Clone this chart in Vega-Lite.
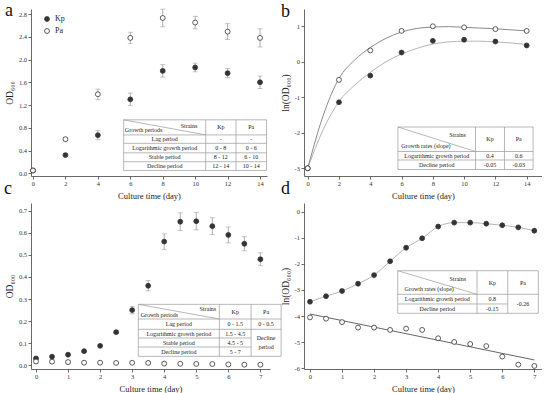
{
  "$schema": "https://vega.github.io/schema/vega-lite/v6.json",
  "background": "white",
  "padding": {"left": 4, "top": 1, "right": 0, "bottom": 0},
  "columns": 2,
  "spacing": {"row": 27, "column": 34},
  "bounds": "flush",
  "resolve": {"scale": {"fill": "independent", "color": "independent"}, "legend": {"fill": "independent", "color": "independent"}},
  "datasets": {
    "growthA": [
      {"day": 0, "val": 0.05, "sd": 0.005, "strain": "Kp"},
      {"day": 2, "val": 0.32, "sd": 0.02, "strain": "Kp"},
      {"day": 4, "val": 0.67, "sd": 0.08, "strain": "Kp"},
      {"day": 6, "val": 1.30, "sd": 0.11, "strain": "Kp"},
      {"day": 8, "val": 1.80, "sd": 0.11, "strain": "Kp"},
      {"day": 10, "val": 1.86, "sd": 0.076, "strain": "Kp"},
      {"day": 12, "val": 1.76, "sd": 0.08, "strain": "Kp"},
      {"day": 14, "val": 1.60, "sd": 0.11, "strain": "Kp"},
      {"day": 0, "val": 0.05, "sd": 0.005, "strain": "Pa"},
      {"day": 2, "val": 0.60, "sd": 0.03, "strain": "Pa"},
      {"day": 4, "val": 1.39, "sd": 0.09, "strain": "Pa"},
      {"day": 6, "val": 2.38, "sd": 0.10, "strain": "Pa"},
      {"day": 8, "val": 2.73, "sd": 0.155, "strain": "Pa"},
      {"day": 10, "val": 2.65, "sd": 0.11, "strain": "Pa"},
      {"day": 12, "val": 2.49, "sd": 0.14, "strain": "Pa"},
      {"day": 14, "val": 2.38, "sd": 0.16, "strain": "Pa"}
    ],
    "growthB": [
      {"day": 0, "val": -3.0, "strain": "Kp"},
      {"day": 2, "val": -1.14, "strain": "Kp"},
      {"day": 4, "val": -0.39, "strain": "Kp"},
      {"day": 6, "val": 0.26, "strain": "Kp"},
      {"day": 8, "val": 0.59, "strain": "Kp"},
      {"day": 10, "val": 0.62, "strain": "Kp"},
      {"day": 12, "val": 0.57, "strain": "Kp"},
      {"day": 14, "val": 0.46, "strain": "Kp"},
      {"day": 0, "val": -3.0, "strain": "Pa"},
      {"day": 2, "val": -0.51, "strain": "Pa"},
      {"day": 4, "val": 0.32, "strain": "Pa"},
      {"day": 6, "val": 0.87, "strain": "Pa"},
      {"day": 8, "val": 1.0, "strain": "Pa"},
      {"day": 10, "val": 0.97, "strain": "Pa"},
      {"day": 12, "val": 0.92, "strain": "Pa"},
      {"day": 14, "val": 0.87, "strain": "Pa"}
    ],
    "curveB": [
      {"day": 0, "val": -3.0, "strain": "Kp"},
      {"day": 1, "val": -1.9, "strain": "Kp"},
      {"day": 2, "val": -1.12, "strain": "Kp"},
      {"day": 3, "val": -0.66, "strain": "Kp"},
      {"day": 4, "val": -0.3, "strain": "Kp"},
      {"day": 5, "val": 0.0, "strain": "Kp"},
      {"day": 6, "val": 0.22, "strain": "Kp"},
      {"day": 7, "val": 0.38, "strain": "Kp"},
      {"day": 8, "val": 0.5, "strain": "Kp"},
      {"day": 9, "val": 0.56, "strain": "Kp"},
      {"day": 10, "val": 0.58, "strain": "Kp"},
      {"day": 11, "val": 0.58, "strain": "Kp"},
      {"day": 12, "val": 0.56, "strain": "Kp"},
      {"day": 13, "val": 0.53, "strain": "Kp"},
      {"day": 14, "val": 0.49, "strain": "Kp"},
      {"day": 0, "val": -3.0, "strain": "Pa"},
      {"day": 1, "val": -1.5, "strain": "Pa"},
      {"day": 2, "val": -0.47, "strain": "Pa"},
      {"day": 3, "val": 0.05, "strain": "Pa"},
      {"day": 4, "val": 0.4, "strain": "Pa"},
      {"day": 5, "val": 0.66, "strain": "Pa"},
      {"day": 6, "val": 0.84, "strain": "Pa"},
      {"day": 7, "val": 0.94, "strain": "Pa"},
      {"day": 8, "val": 0.98, "strain": "Pa"},
      {"day": 9, "val": 0.99, "strain": "Pa"},
      {"day": 10, "val": 0.97, "strain": "Pa"},
      {"day": 11, "val": 0.95, "strain": "Pa"},
      {"day": 12, "val": 0.93, "strain": "Pa"},
      {"day": 13, "val": 0.9, "strain": "Pa"},
      {"day": 14, "val": 0.87, "strain": "Pa"}
    ],
    "growthC": [
      {"day": 0, "val": 0.031, "sd": 0.004, "strain": "Kp"},
      {"day": 0.5, "val": 0.039, "sd": 0.004, "strain": "Kp"},
      {"day": 1, "val": 0.048, "sd": 0.004, "strain": "Kp"},
      {"day": 1.5, "val": 0.064, "sd": 0.004, "strain": "Kp"},
      {"day": 2, "val": 0.088, "sd": 0.004, "strain": "Kp"},
      {"day": 2.5, "val": 0.15, "sd": 0.006, "strain": "Kp"},
      {"day": 3, "val": 0.25, "sd": 0.017, "strain": "Kp"},
      {"day": 3.5, "val": 0.36, "sd": 0.023, "strain": "Kp"},
      {"day": 4, "val": 0.56, "sd": 0.035, "strain": "Kp"},
      {"day": 4.5, "val": 0.65, "sd": 0.04, "strain": "Kp"},
      {"day": 5, "val": 0.652, "sd": 0.039, "strain": "Kp"},
      {"day": 5.5, "val": 0.63, "sd": 0.038, "strain": "Kp"},
      {"day": 6, "val": 0.59, "sd": 0.036, "strain": "Kp"},
      {"day": 6.5, "val": 0.55, "sd": 0.032, "strain": "Kp"},
      {"day": 7, "val": 0.48, "sd": 0.029, "strain": "Kp"},
      {"day": 0, "val": 0.0175, "sd": 0.008, "strain": "Pa"},
      {"day": 0.5, "val": 0.0165, "sd": 0.008, "strain": "Pa"},
      {"day": 1, "val": 0.0146, "sd": 0.008, "strain": "Pa"},
      {"day": 1.5, "val": 0.0118, "sd": 0.004, "strain": "Pa"},
      {"day": 2, "val": 0.0118, "sd": 0.004, "strain": "Pa"},
      {"day": 2.5, "val": 0.0108, "sd": 0.004, "strain": "Pa"},
      {"day": 3, "val": 0.0114, "sd": 0.004, "strain": "Pa"},
      {"day": 3.5, "val": 0.0108, "sd": 0.004, "strain": "Pa"},
      {"day": 4, "val": 0.0078, "sd": 0.003, "strain": "Pa"},
      {"day": 4.5, "val": 0.0068, "sd": 0.003, "strain": "Pa"},
      {"day": 5, "val": 0.0063, "sd": 0.003, "strain": "Pa"},
      {"day": 5.5, "val": 0.0058, "sd": 0.003, "strain": "Pa"},
      {"day": 6, "val": 0.0039, "sd": 0.003, "strain": "Pa"},
      {"day": 6.5, "val": 0.0028, "sd": 0.003, "strain": "Pa"},
      {"day": 7, "val": 0.0027, "sd": 0.003, "strain": "Pa"}
    ],
    "growthD": [
      {"day": 0, "val": -3.45, "strain": "Kp"},
      {"day": 0.5, "val": -3.24, "strain": "Kp"},
      {"day": 1, "val": -3.04, "strain": "Kp"},
      {"day": 1.5, "val": -2.76, "strain": "Kp"},
      {"day": 2, "val": -2.43, "strain": "Kp"},
      {"day": 2.5, "val": -1.90, "strain": "Kp"},
      {"day": 3, "val": -1.38, "strain": "Kp"},
      {"day": 3.5, "val": -1.02, "strain": "Kp"},
      {"day": 4, "val": -0.57, "strain": "Kp"},
      {"day": 4.5, "val": -0.42, "strain": "Kp"},
      {"day": 5, "val": -0.42, "strain": "Kp"},
      {"day": 5.5, "val": -0.46, "strain": "Kp"},
      {"day": 6, "val": -0.52, "strain": "Kp"},
      {"day": 6.5, "val": -0.60, "strain": "Kp"},
      {"day": 7, "val": -0.73, "strain": "Kp"},
      {"day": 0, "val": -4.05, "strain": "Pa"},
      {"day": 0.5, "val": -4.10, "strain": "Pa"},
      {"day": 1, "val": -4.23, "strain": "Pa"},
      {"day": 1.5, "val": -4.44, "strain": "Pa"},
      {"day": 2, "val": -4.44, "strain": "Pa"},
      {"day": 2.5, "val": -4.53, "strain": "Pa"},
      {"day": 3, "val": -4.48, "strain": "Pa"},
      {"day": 3.5, "val": -4.53, "strain": "Pa"},
      {"day": 4, "val": -4.85, "strain": "Pa"},
      {"day": 4.5, "val": -4.99, "strain": "Pa"},
      {"day": 5, "val": -5.07, "strain": "Pa"},
      {"day": 5.5, "val": -5.15, "strain": "Pa"},
      {"day": 6, "val": -5.55, "strain": "Pa"},
      {"day": 6.5, "val": -5.86, "strain": "Pa"},
      {"day": 7, "val": -5.91, "strain": "Pa"}
    ],
    "fitD": [
      {"day": 0, "val": -3.92, "strain": "Pa"},
      {"day": 7, "val": -5.68, "strain": "Pa"}
    ],
    "tblA_lines": [
      {"day": 5.59, "val": 0.94, "day2": 14.4, "val2": 0.94},
      {"day": 5.59, "val": 0.675, "day2": 14.4, "val2": 0.675},
      {"day": 5.59, "val": 0.527, "day2": 14.4, "val2": 0.527},
      {"day": 5.59, "val": 0.36, "day2": 14.4, "val2": 0.36},
      {"day": 5.59, "val": 0.204, "day2": 14.4, "val2": 0.204},
      {"day": 5.59, "val": 0.05, "day2": 14.4, "val2": 0.05},
      {"day": 5.59, "val": 0.94, "day2": 5.59, "val2": 0.05},
      {"day": 10.65, "val": 0.94, "day2": 10.65, "val2": 0.05},
      {"day": 12.52, "val": 0.94, "day2": 12.52, "val2": 0.05},
      {"day": 14.4, "val": 0.94, "day2": 14.4, "val2": 0.05},
      {"day": 5.59, "val": 0.94, "day2": 10.65, "val2": 0.675}
    ],
    "tblA_text": [
      {"day": 9.62, "val": 0.837, "label": "Strains"},
      {"day": 6.82, "val": 0.765, "label": "Growth periods"},
      {"day": 11.585, "val": 0.808, "label": "Kp"},
      {"day": 13.46, "val": 0.808, "label": "Pa"},
      {"day": 8.12, "val": 0.601, "label": "Lag period"},
      {"day": 11.585, "val": 0.601, "label": "-"},
      {"day": 13.46, "val": 0.601, "label": "-"},
      {"day": 8.12, "val": 0.4435, "label": "Logarithmic growth period"},
      {"day": 11.585, "val": 0.4435, "label": "0 - 8"},
      {"day": 13.46, "val": 0.4435, "label": "0 - 6"},
      {"day": 8.12, "val": 0.282, "label": "Stable period"},
      {"day": 11.585, "val": 0.282, "label": "8 - 12"},
      {"day": 13.46, "val": 0.282, "label": "6 - 10"},
      {"day": 8.12, "val": 0.127, "label": "Decline period"},
      {"day": 11.585, "val": 0.127, "label": "12 - 14"},
      {"day": 13.46, "val": 0.127, "label": "10 - 14"}
    ],
    "tblB_lines": [
      {"day": 5.77, "val": -1.837, "day2": 14.41, "val2": -1.837},
      {"day": 5.77, "val": -2.527, "day2": 14.41, "val2": -2.527},
      {"day": 5.77, "val": -2.766, "day2": 14.41, "val2": -2.766},
      {"day": 5.77, "val": -3.034, "day2": 14.41, "val2": -3.034},
      {"day": 5.77, "val": -1.837, "day2": 5.77, "val2": -3.034},
      {"day": 10.73, "val": -1.837, "day2": 10.73, "val2": -3.034},
      {"day": 12.58, "val": -1.837, "day2": 12.58, "val2": -3.034},
      {"day": 14.41, "val": -1.837, "day2": 14.41, "val2": -3.034},
      {"day": 5.77, "val": -1.837, "day2": 10.73, "val2": -2.527}
    ],
    "tblB_text": [
      {"day": 9.58, "val": -2.06, "label": "Strains"},
      {"day": 7.56, "val": -2.38, "label": "Growth rates (slope)"},
      {"day": 11.655, "val": -2.18, "label": "Kp"},
      {"day": 13.495, "val": -2.18, "label": "Pa"},
      {"day": 8.25, "val": -2.646, "label": "Logarithmic growth period"},
      {"day": 11.655, "val": -2.646, "label": "0.4"},
      {"day": 13.495, "val": -2.646, "label": "0.6"},
      {"day": 8.25, "val": -2.9, "label": "Decline period"},
      {"day": 11.655, "val": -2.9, "label": "-0.05"},
      {"day": 13.495, "val": -2.9, "label": "-0.03"}
    ],
    "tblC_lines": [
      {"day": 3.193, "val": 0.276, "day2": 7.647, "val2": 0.276},
      {"day": 3.193, "val": 0.2096, "day2": 7.647, "val2": 0.2096},
      {"day": 3.193, "val": 0.163, "day2": 7.647, "val2": 0.163},
      {"day": 3.193, "val": 0.1236, "day2": 6.71, "val2": 0.1236},
      {"day": 3.193, "val": 0.0828, "day2": 6.71, "val2": 0.0828},
      {"day": 3.193, "val": 0.0407, "day2": 7.647, "val2": 0.0407},
      {"day": 3.193, "val": 0.276, "day2": 3.193, "val2": 0.0407},
      {"day": 5.721, "val": 0.276, "day2": 5.721, "val2": 0.0407},
      {"day": 6.71, "val": 0.276, "day2": 6.71, "val2": 0.0407},
      {"day": 7.647, "val": 0.276, "day2": 7.647, "val2": 0.0407},
      {"day": 3.193, "val": 0.276, "day2": 5.721, "val2": 0.2096}
    ],
    "tblC_text": [
      {"day": 5.36, "val": 0.255, "label": "Strains"},
      {"day": 3.85, "val": 0.226, "label": "Growth periods"},
      {"day": 6.2155, "val": 0.243, "label": "Kp"},
      {"day": 7.1785, "val": 0.243, "label": "Pa"},
      {"day": 4.457, "val": 0.1863, "label": "Lag period"},
      {"day": 6.2155, "val": 0.1863, "label": "0 - 1.5"},
      {"day": 7.1785, "val": 0.1863, "label": "0 - 0.5"},
      {"day": 4.457, "val": 0.1433, "label": "Logarithmic growth period"},
      {"day": 6.2155, "val": 0.1433, "label": "1.5 - 4.5"},
      {"day": 4.457, "val": 0.1032, "label": "Stable period"},
      {"day": 6.2155, "val": 0.1032, "label": "4.5 - 5"},
      {"day": 4.457, "val": 0.0618, "label": "Decline period"},
      {"day": 6.2155, "val": 0.0618, "label": "5 - 7"},
      {"day": 7.1785, "val": 0.124, "label": "Decline"},
      {"day": 7.1785, "val": 0.083, "label": "period"}
    ],
    "tblD_lines": [
      {"day": 2.737, "val": -2.261, "day2": 7.126, "val2": -2.261},
      {"day": 2.737, "val": -3.165, "day2": 7.126, "val2": -3.165},
      {"day": 2.737, "val": -3.536, "day2": 6.171, "val2": -3.536},
      {"day": 2.737, "val": -3.893, "day2": 7.126, "val2": -3.893},
      {"day": 2.737, "val": -2.261, "day2": 2.737, "val2": -3.893},
      {"day": 5.212, "val": -2.261, "day2": 5.212, "val2": -3.893},
      {"day": 6.171, "val": -2.261, "day2": 6.171, "val2": -3.893},
      {"day": 7.126, "val": -2.261, "day2": 7.126, "val2": -3.893},
      {"day": 2.737, "val": -2.261, "day2": 5.212, "val2": -3.165}
    ],
    "tblD_text": [
      {"day": 4.61, "val": -2.59, "label": "Strains"},
      {"day": 3.72, "val": -2.97, "label": "Growth rates (slope)"},
      {"day": 5.69, "val": -2.713, "label": "Kp"},
      {"day": 6.648, "val": -2.713, "label": "Pa"},
      {"day": 3.974, "val": -3.35, "label": "Logarithmic growth period"},
      {"day": 5.69, "val": -3.35, "label": "0.8"},
      {"day": 3.974, "val": -3.72, "label": "Decline period"},
      {"day": 5.69, "val": -3.72, "label": "-0.15"},
      {"day": 6.648, "val": -3.53, "label": "-0.26"}
    ]
  },
  "concat": [
    {
      "width": 236, "height": 167,
      "title": {"text": "a", "dx": -26, "dy": 15},
      "encoding": {
        "x": {"field": "day", "type": "quantitative", "scale": {"domain": [-0.123, 14.43], "nice": false, "zero": false}, "axis": {"values": [0, 2, 4, 6, 8, 10, 12, 14], "title": "Culture time (day)"}},
        "y": {"field": "val", "type": "quantitative", "scale": {"domain": [-0.047, 2.888], "nice": false, "zero": false}, "axis": {"values": [0, 0.4, 0.8, 1.2, 1.6, 2.0, 2.4, 2.8], "format": ".1f", "title": "OD₆₀₀"}}
      },
      "layer": [
        {"data": {"name": "tblA_lines"}, "mark": {"type": "rule", "color": "#9a9a9a", "strokeWidth": 0.7}, "encoding": {"x2": {"field": "day2"}, "y2": {"field": "val2"}}},
        {"data": {"name": "tblA_text"}, "mark": {"type": "text", "font": "Liberation Serif", "fontSize": 6, "color": "#222", "align": "center", "baseline": "middle"}, "encoding": {"text": {"field": "label"}}},
        {"data": {"name": "growthA"}, "mark": {"type": "errorbar", "color": "#9a9a9a", "ticks": true, "thickness": 0.8}, "encoding": {"yError": {"field": "sd"}}},
        {"data": {"name": "growthA"}, "mark": {"type": "point", "filled": true, "stroke": "#333", "strokeWidth": 0.8, "size": 24, "opacity": 1},
         "encoding": {"fill": {"field": "strain", "type": "nominal", "scale": {"domain": ["Kp", "Pa"], "range": ["#333333", "#ffffff"]},
           "legend": {"orient": "none", "legendX": 12, "legendY": 6, "title": null, "labelFont": "Liberation Serif", "labelFontSize": 8, "labelColor": "#222", "symbolType": "circle", "symbolSize": 24, "symbolStrokeColor": "#333", "symbolStrokeWidth": 0.8, "rowPadding": 2, "labelOffset": 4}}}}
      ]
    },
    {
      "width": 238, "height": 167,
      "title": {"text": "b", "dx": -23, "dy": 16},
      "encoding": {
        "x": {"field": "day", "type": "quantitative", "scale": {"domain": [-0.237, 14.98], "nice": false, "zero": false}, "axis": {"values": [0, 2, 4, 6, 8, 10, 12, 14], "title": "Culture time (day)"}},
        "y": {"field": "val", "type": "quantitative", "scale": {"domain": [-3.217, 1.487], "nice": false, "zero": false}, "axis": {"values": [-3, -2, -1, 0, 1], "labelExpr": "replace(datum.label, '−', '-')", "title": "ln(OD₆₀₀)"}}
      },
      "layer": [
        {"data": {"name": "tblB_lines"}, "mark": {"type": "rule", "color": "#9a9a9a", "strokeWidth": 0.7}, "encoding": {"x2": {"field": "day2"}, "y2": {"field": "val2"}}},
        {"data": {"name": "tblB_text"}, "mark": {"type": "text", "font": "Liberation Serif", "fontSize": 6, "color": "#222", "align": "center", "baseline": "middle"}, "encoding": {"text": {"field": "label"}}},
        {"data": {"name": "curveB"}, "mark": {"type": "line", "interpolate": "monotone", "strokeWidth": 1}, "encoding": {"color": {"field": "strain", "type": "nominal", "scale": {"domain": ["Kp", "Pa"], "range": ["#b5b5b5", "#8a8a8a"]}, "legend": null}}},
        {"data": {"name": "growthB"}, "mark": {"type": "point", "filled": true, "stroke": "#333", "strokeWidth": 0.8, "size": 24, "opacity": 1},
         "encoding": {"fill": {"field": "strain", "type": "nominal", "scale": {"domain": ["Kp", "Pa"], "range": ["#333333", "#ffffff"]}, "legend": null}}}
      ]
    },
    {
      "width": 239, "height": 166,
      "title": {"text": "c", "dx": -27, "dy": -1},
      "encoding": {
        "x": {"field": "day", "type": "quantitative", "scale": {"domain": [-0.156, 7.3], "nice": false, "zero": false}, "axis": {"values": [0, 1, 2, 3, 4, 5, 6, 7], "title": "Culture time (day)"}},
        "y": {"field": "val", "type": "quantitative", "scale": {"domain": [-0.0167, 0.7347], "nice": false, "zero": false}, "axis": {"values": [0, 0.1, 0.2, 0.3, 0.4, 0.5, 0.6, 0.7], "format": ".1f", "title": "OD₆₀₀"}}
      },
      "layer": [
        {"data": {"name": "tblC_lines"}, "mark": {"type": "rule", "color": "#9a9a9a", "strokeWidth": 0.7}, "encoding": {"x2": {"field": "day2"}, "y2": {"field": "val2"}}},
        {"data": {"name": "tblC_text"}, "mark": {"type": "text", "font": "Liberation Serif", "fontSize": 6, "color": "#222", "align": "center", "baseline": "middle"}, "encoding": {"text": {"field": "label"}}},
        {"data": {"name": "growthC"}, "mark": {"type": "errorbar", "color": "#9a9a9a", "ticks": true, "thickness": 0.8}, "encoding": {"yError": {"field": "sd"}}},
        {"data": {"name": "growthC"}, "mark": {"type": "point", "filled": true, "stroke": "#333", "strokeWidth": 0.8, "size": 24, "opacity": 1},
         "encoding": {"fill": {"field": "strain", "type": "nominal", "scale": {"domain": ["Kp", "Pa"], "range": ["#333333", "#ffffff"]}, "legend": null}}}
      ]
    },
    {
      "width": 238, "height": 166,
      "title": {"text": "d", "dx": -23, "dy": -1},
      "encoding": {
        "x": {"field": "day", "type": "quantitative", "scale": {"domain": [-0.187, 7.24], "nice": false, "zero": false}, "axis": {"values": [0, 1, 2, 3, 4, 5, 6, 7], "title": "Culture time (day)"}},
        "y": {"field": "val", "type": "quantitative", "scale": {"domain": [-6.027, 0.333], "nice": false, "zero": false}, "axis": {"values": [-6, -5, -4, -3, -2, -1, 0], "labelExpr": "replace(datum.label, '−', '-')", "title": "ln(OD₆₀₀)"}}
      },
      "layer": [
        {"data": {"name": "tblD_lines"}, "mark": {"type": "rule", "color": "#9a9a9a", "strokeWidth": 0.7}, "encoding": {"x2": {"field": "day2"}, "y2": {"field": "val2"}}},
        {"data": {"name": "tblD_text"}, "mark": {"type": "text", "font": "Liberation Serif", "fontSize": 6, "color": "#222", "align": "center", "baseline": "middle"}, "encoding": {"text": {"field": "label"}}},
        {"data": {"name": "growthD"}, "transform": [{"filter": "datum.strain == 'Kp'"}], "mark": {"type": "line", "interpolate": "monotone", "strokeWidth": 1, "color": "#b5b5b5"}, "encoding": {}},
        {"data": {"name": "fitD"}, "mark": {"type": "line", "strokeWidth": 1, "color": "#666"}, "encoding": {}},
        {"data": {"name": "growthD"}, "mark": {"type": "point", "filled": true, "stroke": "#333", "strokeWidth": 0.8, "size": 24, "opacity": 1},
         "encoding": {"fill": {"field": "strain", "type": "nominal", "scale": {"domain": ["Kp", "Pa"], "range": ["#333333", "#ffffff"]}, "legend": null}}}
      ]
    }
  ],
  "config": {
    "view": {"stroke": null},
    "font": "Liberation Serif",
    "title": {"anchor": "start", "frame": "group", "font": "Liberation Serif", "fontSize": 18, "fontWeight": "normal", "offset": 0, "baseline": "alphabetic", "color": "#111"},
    "axis": {"labelFont": "Liberation Serif", "labelFontSize": 6.5, "labelColor": "#333", "titleFont": "Liberation Serif", "titleFontWeight": "normal", "titleColor": "#222", "domainColor": "#444", "tickColor": "#444", "tickSize": 3, "labelPadding": 1.5, "grid": false, "domainWidth": 0.8, "tickWidth": 0.8},
    "axisX": {"titleFontSize": 8.5, "titlePadding": 4},
    "axisY": {"titleFontSize": 9.5, "titlePadding": 4}
  }
}
